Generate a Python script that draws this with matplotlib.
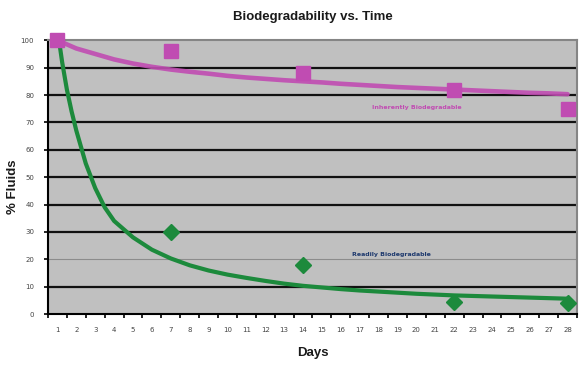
import matplotlib
matplotlib.use("Agg")
import matplotlib.pyplot as plt

# measured points
days = list(range(1, 29))
point_days = [1, 7, 14, 22, 28]
inherent_pts = [100, 96, 88, 82, 75]
ready_pts = [100, 30, 18, 4.5, 4]

# trend curves
inherent_trend_days = list(range(1, 29))
inherent_trend = [100, 97, 95, 93, 91.5, 90.3, 89.3, 88.5, 87.8, 87, 86.4, 85.9, 85.4, 85,
                  84.6, 84.1, 83.7, 83.3, 82.9, 82.6, 82.3, 82, 81.7, 81.4, 81.1, 80.8, 80.6, 80.3]
ready_trend_days = [1, 1.25, 1.5, 1.75, 2, 2.5, 3, 3.5, 4, 4.5, 5, 6, 7, 8, 9, 10, 11, 12, 13, 14,
                    15, 16, 17, 18, 19, 20, 21, 22, 23, 24, 25, 26, 27, 28]
ready_trend = [104, 92, 82, 74, 67, 55, 46, 39, 34, 31, 28, 23.5, 20.3, 17.8, 15.9, 14.4, 13.2, 12.1,
               11.1, 10.3, 9.7, 9.1, 8.6, 8.2, 7.8, 7.4, 7.1, 6.8, 6.6, 6.4, 6.2, 6.0, 5.8, 5.6]

y_ticks = [0, 10, 20, 30, 40, 50, 60, 70, 80, 90, 100]

PINK = "#C04CB2"
GREEN = "#1C8A3C"
NAVY = "#1F3A6E"

plt.rcParams["font.family"] = ["Liberation Sans", "DejaVu Sans"]

fig = plt.figure(figsize=(5.88, 3.66), dpi=100)
ax = fig.add_axes([0.0816, 0.142, 0.8997, 0.748])
ax.set_facecolor("#C0C0C0")

ax.set_xlim(0.5, 28.5)
ax.set_ylim(0, 100)

for y in y_ticks[1:-1]:
    if y == 20:
        ax.axhline(y, color="#8C8C8C", lw=0.8, zorder=1)
    else:
        ax.axhline(y, color="#111111", lw=1.6, zorder=1)

ax.plot(inherent_trend_days, inherent_trend, color=PINK, lw=3.3, alpha=0.9,
        solid_capstyle="round", zorder=3)
ax.plot(ready_trend_days, ready_trend, color=GREEN, lw=3, solid_capstyle="round", zorder=3)

ax.plot(point_days[1:], ready_pts[1:], ls="none", marker="D", ms=8.5, color=GREEN, zorder=4)
ax.plot(point_days, inherent_pts, ls="none", marker="s", ms=10, color=PINK,
        clip_on=False, zorder=5)

ax.text(20, 75.5, "Inherently Biodegradable", color=PINK, fontsize=4.5,
        fontweight="bold", ha="center", va="center", family="DejaVu Sans", zorder=6)
ax.text(18.7, 21.7, "Readily Biodegradable", color=NAVY, fontsize=4.5,
        fontweight="bold", ha="center", va="center", family="DejaVu Sans", zorder=6)

for side in ["top", "right"]:
    ax.spines[side].set_color("#858585")
    ax.spines[side].set_linewidth(1.5)
for side in ["left", "bottom"]:
    ax.spines[side].set_color("black")
    ax.spines[side].set_linewidth(1.5)

ax.set_yticks(y_ticks)
ax.set_yticklabels([str(v) for v in y_ticks], fontsize=5, color="#444444",
                   family="DejaVu Sans")
ax.set_xticks(days)
ax.set_xticklabels([str(d) for d in days], fontsize=5, color="#444444",
                   family="DejaVu Sans")
ax.set_xticks([d + 0.5 for d in range(0, 29)], minor=True)
ax.tick_params(axis="x", which="major", length=0, pad=9)
ax.tick_params(axis="x", which="minor", length=3, width=1.2, color="black")
ax.tick_params(axis="y", length=3, width=1.2, color="black", pad=7)

fig.text(0.532, 0.953, "Biodegradability vs. Time", fontsize=9.5, fontweight="bold",
         ha="center", va="center", color="#1a1a1a")
fig.text(0.532, 0.035, "Days", fontsize=9.5, fontweight="bold",
         ha="center", va="center", color="#1a1a1a")
fig.text(0.022, 0.49, "% Fluids", fontsize=9.5, fontweight="bold", rotation=90,
         ha="center", va="center", color="#1a1a1a")

fig.savefig("out.png", dpi=100)
